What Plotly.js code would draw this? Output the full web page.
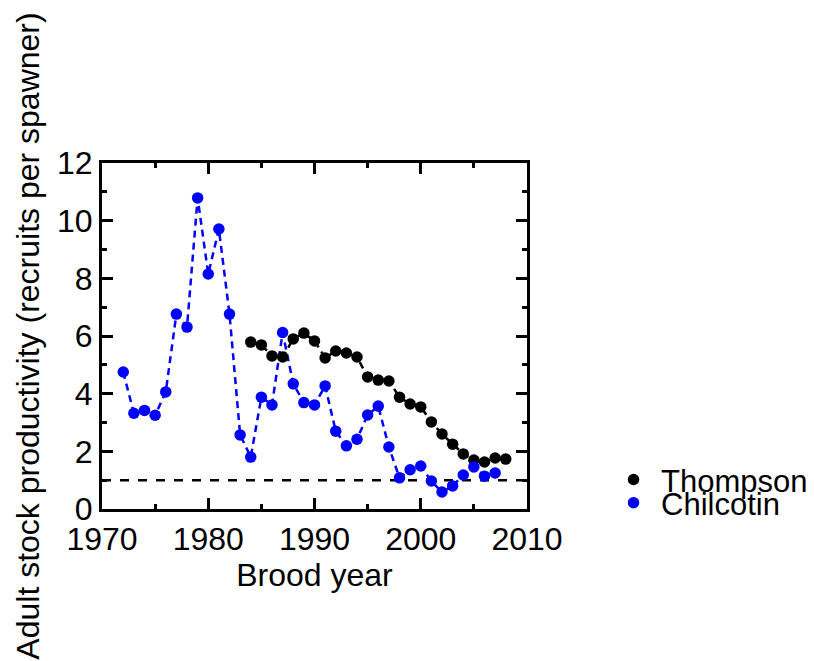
<!DOCTYPE html>
<html>
<head>
<meta charset="utf-8">
<script src="https://cdn.plot.ly/plotly-3.0.1.min.js"></script>
<style>html,body{margin:0;padding:0;background:#fff;}#chart{width:814px;height:661px;}</style>
</head>
<body>
<div id="chart"></div>
<script>
// Data
const thompsonYears = [1984,1985,1986,1987,1988,1989,1990,1991,1992,1993,1994,1995,1996,1997,1998,1999,2000,2001,2002,2003,2004,2005,2006,2007,2008];
const thompsonValues = [5.79,5.69,5.31,5.27,5.90,6.10,5.83,5.24,5.48,5.41,5.27,4.58,4.47,4.44,3.88,3.64,3.54,3.02,2.60,2.25,1.91,1.70,1.63,1.77,1.73];
const chilcotinYears = [1972,1973,1974,1975,1976,1977,1978,1979,1980,1981,1982,1983,1984,1985,1986,1987,1988,1989,1990,1991,1992,1993,1994,1995,1996,1997,1998,1999,2000,2001,2002,2003,2004,2005,2006,2007];
const chilcotinValues = [4.75,3.32,3.42,3.25,4.06,6.76,6.31,10.79,8.15,9.71,6.76,2.57,1.80,3.88,3.61,6.12,4.34,3.69,3.61,4.27,2.70,2.19,2.42,3.26,3.57,2.15,1.08,1.36,1.49,0.97,0.59,0.80,1.18,1.46,1.14,1.25];
const replacementLevel = 1;
const xTickVals = [1970,1980,1990,2000,2010];
const yTickVals = [0,2,4,6,8,10,12];

const FONT = 'Liberation Sans, Arial, sans-serif';
const fsTick = 32;
const fsTitle = 32;
const fsLegend = 31;

const traces = [
  {x: thompsonYears, y: thompsonValues, mode: 'lines', showlegend: false, hoverinfo: 'skip',
   line: {color: '#000000', width: 2.5, dash: '7px,5px'}},
  {x: chilcotinYears, y: chilcotinValues, mode: 'lines', showlegend: false, hoverinfo: 'skip',
   line: {color: '#0000ff', width: 2.5, dash: '7px,5px'}},
  {x: thompsonYears, y: thompsonValues, mode: 'markers', name: 'Thompson', legend: 'legend',
   marker: {color: '#000000', size: 11.5}},
  {x: chilcotinYears, y: chilcotinValues, mode: 'markers', name: 'Chilcotin', legend: 'legend2',
   marker: {color: '#0000ff', size: 11.5}}
];

const axisCommon = {
  showline: true, linecolor: '#000', linewidth: 3, mirror: 'ticks',
  ticks: 'inside', ticklen: 11, tickwidth: 3, tickcolor: '#000',
  showgrid: false, zeroline: false,
  tickfont: {family: FONT, size: fsTick, color: '#000'}
};

const legendCommon = {
  xref: 'container', yref: 'container', x: 0.7445, xanchor: 'left', yanchor: 'middle',
  bgcolor: 'rgba(0,0,0,0)', itemwidth: 45,
  font: {family: FONT, size: fsLegend, color: '#000'}
};

const layout = {
  width: 814, height: 661,
  margin: {l: 102, r: 287, t: 163, b: 152},
  paper_bgcolor: '#fff', plot_bgcolor: '#fff',
  font: {family: FONT, size: fsTitle, color: '#000'},
  xaxis: Object.assign({}, axisCommon, {
    range: [1970, 2010], tickmode: 'array', tickvals: xTickVals,
    minor: {dtick: 5, tick0: 1970, ticks: 'inside', ticklen: 5, tickwidth: 3, tickcolor: '#000'},
    title: {text: 'Brood year', font: {family: FONT, size: fsTitle, color: '#000'}, standoff: 0}
  }),
  yaxis: Object.assign({}, axisCommon, {
    range: [0, 12], tickmode: 'array', tickvals: yTickVals,
    minor: {dtick: 1, tick0: 0, ticks: 'inside', ticklen: 5, tickwidth: 3, tickcolor: '#000'},
    title: {text: 'Adult stock productivity (recruits per spawner)', font: {family: FONT, size: fsTitle, color: '#000'}, standoff: 8}
  }),
  shapes: [{type: 'line', xref: 'paper', x0: 0, x1: 1, yref: 'y', y0: replacementLevel, y1: replacementLevel,
            line: {color: '#000', width: 2.5, dash: '9px,9px'}, layer: 'below'}],
  legend: Object.assign({}, legendCommon, {y: 0.274}),
  legend2: Object.assign({}, legendCommon, {y: 0.239})
};

Plotly.newPlot('chart', traces, layout, {staticPlot: true, displayModeBar: false});
</script>
</body>
</html>
